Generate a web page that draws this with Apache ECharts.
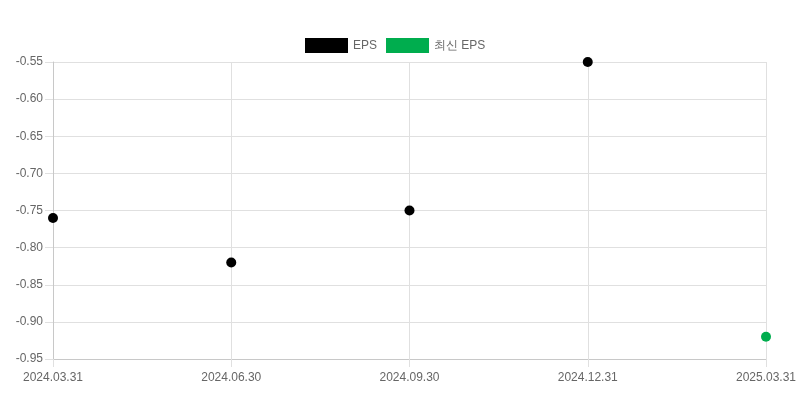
<!DOCTYPE html>
<html>
<head>
<meta charset="utf-8">
<script src="https://cdn.jsdelivr.net/npm/echarts@6/dist/echarts.min.js"></script>
<style>
  html, body { margin: 0; padding: 0; background: #fff; }
  #chart { width: 800px; height: 400px; }
</style>
</head>
<body>
<div id="chart"></div>
<script>
const categories = ["2024.03.31", "2024.06.30", "2024.09.30", "2024.12.31", "2025.03.31"]
const epsValues = [-0.76, -0.82, -0.75, -0.55, null]
const latestEpsValues = [null, null, null, null, -0.92]

const chart = echarts.init(document.getElementById("chart"))

const option = {
    animation: false,
    textStyle: { fontFamily: "Liberation Sans, Arial, sans-serif" },
    legend: {
        top: 33,
        left: 300,
        itemWidth: 43,
        itemHeight: 15,
        itemGap: 9,
        icon: "rect",
        textStyle: { color: "#666", fontSize: 12 },
        data: ["EPS", "최신 EPS"]
    },
    grid: {
        left: 53,
        right: 34,
        top: 62,
        bottom: 41
    },
    xAxis: {
        type: "category",
        boundaryGap: false,
        data: categories,
        axisLine: { lineStyle: { color: "#c8c8c8" } },
        axisTick: { show: true, length: 8, lineStyle: { color: "#e0e0e0" } },
        axisLabel: { color: "#666", fontSize: 12, margin: 13 },
        splitLine: { show: true, lineStyle: { color: "#e0e0e0" } }
    },
    yAxis: {
        type: "value",
        min: -0.95,
        max: -0.55,
        interval: 0.05,
        axisLine: { show: true, lineStyle: { color: "#c8c8c8" } },
        axisTick: { show: true, length: 8, lineStyle: { color: "#e0e0e0" } },
        axisLabel: {
            color: "#666",
            fontSize: 12,
            margin: 10,
            formatter: (v) => v.toFixed(2)
        },
        splitLine: { show: true, lineStyle: { color: "#e0e0e0" } }
    },
    series: [
        {
            name: "EPS",
            type: "scatter",
            symbolSize: 10,
            itemStyle: { color: "#000", opacity: 1 },
            data: epsValues
        },
        {
            name: "최신 EPS",
            type: "scatter",
            symbolSize: 10,
            itemStyle: { color: "#00ad4e", opacity: 1 },
            data: latestEpsValues
        }
    ]
}

chart.setOption(option)
</script>
</body>
</html>
